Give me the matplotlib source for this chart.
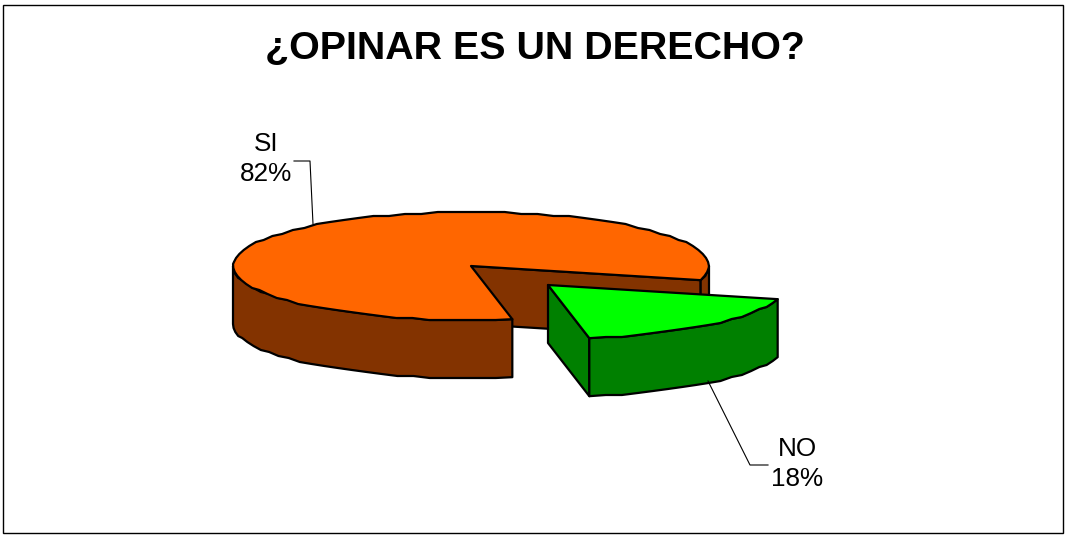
import numpy as np
import matplotlib
matplotlib.use("Agg")
import matplotlib.pyplot as plt
from matplotlib.patches import Polygon, Rectangle

plt.rcParams['font.family'] = ['Liberation Sans', 'DejaVu Sans']

title = "¿OPINAR ES UN DERECHO?"
categories = ["SI", "NO"]
values = [82, 18]
top_colors = ["#FF6600", "#00FF00"]
side_colors = ["#833300", "#008000"]

# pie geometry in pixels
cx, cy = 471, 266
rx, ry = 238, 54
depth = 58
explode = (77, 19)
start = -15.2

def rim(a0, a1, dx=0, dy=0):
    # coarse steps snapped to a grid, the source chart has a bumpy outline
    n = max(2, int(abs(a1 - a0) / 4) + 1)
    t = np.radians(np.linspace(a0, a1, n))
    x = cx + rx * np.cos(t)
    y = cy - ry * np.sin(t)
    y[1:-1] = np.round(y[1:-1] / 2) * 2
    return np.column_stack([x + dx, y + dy])

def face(pts, color, z):
    ax.add_patch(Polygon(pts, closed=True, fc=color, ec="black", lw=1.6, joinstyle="round", zorder=z))

fig = plt.figure(figsize=(10.65, 5.35), dpi=100)
ax = fig.add_axes([0, 0, 1, 1])
ax.set_xlim(0, 1065)
ax.set_ylim(535, 0)
ax.axis("off")

ax.add_patch(Rectangle((3, 5), 1060, 528, fc="white", ec="black", lw=1, zorder=0))

no_span = 360 * values[1] / sum(values)
no_end = start - no_span

# SI slice: cut face, outer wall, top
si = rim(start, no_end + 360)
a = si[0]
face([(cx, cy), a, a + (0, depth), (cx, cy + depth)], side_colors[0], 1)
for a0, a1 in [(start, 0), (180, no_end + 360)]:
    arc = rim(a0, a1)
    face(np.vstack([arc, (arc + (0, depth))[::-1]]), side_colors[0], 2)
face(np.vstack([[(cx, cy)], si]), top_colors[0], 3)

# NO slice, pulled out of the pie
dx, dy = explode
no = rim(no_end, start, dx, dy)
ap = np.array([cx + dx, cy + dy])
face([ap, no[0], no[0] + (0, depth), ap + (0, depth)], side_colors[1], 4)
face(np.vstack([no, (no + (0, depth))[::-1]]), side_colors[1], 5)
face(np.vstack([[ap], no]), top_colors[1], 6)

# leader lines
ax.plot([294, 310, 313], [161, 161, 224], color="black", lw=0.8, zorder=7)
ax.plot([708, 750, 768], [381, 465, 465], color="black", lw=0.8, zorder=7)

ax.text(535, 49, title, ha="center", va="center", fontsize=28.4, fontweight="bold")
ax.text(266, 159, f"{categories[0]}\n{values[0]}%", ha="center", va="center", fontsize=18.8, linespacing=1.36)
ax.text(797, 464, f"{categories[1]}\n{values[1]}%", ha="center", va="center", fontsize=18.8, linespacing=1.36)

fig.savefig("out.png", dpi=100)
